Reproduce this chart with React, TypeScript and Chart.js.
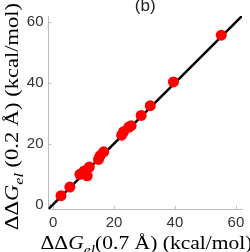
import React, { useEffect, useRef } from "react";
import { Chart, registerables } from "chart.js";

Chart.register(...registerables);

// ΔΔG_el at 0.7 Å (x) vs 0.2 Å (y), kcal/mol
const xValues = [2.6, 5.5, 8.8, 10.2, 11.2, 11.9, 14.9, 15.4, 16.6, 22.5, 23.1, 24.8, 25.6, 28.9, 31.9, 39.5, 55.2];
const yValues = [2.9, 5.7, 9.9, 11.0, 9.4, 12.3, 14.8, 16.0, 17.3, 22.8, 23.9, 25.4, 25.9, 29.3, 32.5, 40.3, 55.7];
const tickValues = [0, 20, 40, 60];
const axisMin = -1.5;
const axisMax = 62;
const diagonal = [axisMin, axisMax];
const titleText = "(b)";

const SANS = '"Liberation Sans", Arial, Helvetica, sans-serif';
const SERIF = '"Liberation Serif", "Times New Roman", serif';

type Part = { t: string; italic?: boolean; sub?: boolean };

function drawMath(
  ctx: CanvasRenderingContext2D,
  parts: Part[],
  size: number,
  x0: number,
  y0: number,
  targetLen: number,
  rotate: boolean
) {
  ctx.save();
  ctx.translate(x0, y0);
  if (rotate) ctx.rotate(-Math.PI / 2);
  const fonts = parts.map(
    (p) => `${p.italic ? "italic " : ""}${p.sub ? Math.round(size * 0.7) : size}px ${SERIF}`
  );
  let w = 0;
  parts.forEach((p, i) => {
    ctx.font = fonts[i];
    w += ctx.measureText(p.t).width;
  });
  const k = targetLen / w;
  ctx.scale(k, 1);
  ctx.fillStyle = "#000";
  ctx.textAlign = "left";
  ctx.textBaseline = "alphabetic";
  let cx = 0;
  parts.forEach((p, i) => {
    ctx.font = fonts[i];
    ctx.fillText(p.t, cx, p.sub ? size * 0.28 : 0);
    cx += ctx.measureText(p.t).width;
  });
  ctx.restore();
}

const decorPlugin = {
  id: "decor",
  afterDraw(chart: any) {
    const ctx: CanvasRenderingContext2D = chart.ctx;
    const { left, right, bottom } = chart.chartArea;
    const xs = chart.scales.x;
    const ys = chart.scales.y;
    // inward tick marks
    ctx.save();
    ctx.strokeStyle = "#bdbdbd";
    ctx.lineWidth = 1;
    ctx.beginPath();
    tickValues.forEach((v) => {
      const px = Math.round(xs.getPixelForValue(v)) + 0.5;
      ctx.moveTo(px, bottom);
      ctx.lineTo(px, bottom - 3);
      const py = Math.round(ys.getPixelForValue(v)) + 0.5;
      ctx.moveTo(left, py);
      ctx.lineTo(left + 3, py);
    });
    ctx.stroke();
    ctx.restore();

    // title
    ctx.save();
    ctx.fillStyle = "#222";
    ctx.font = `17px ${SANS}`;
    ctx.textAlign = "center";
    ctx.textBaseline = "middle";
    ctx.fillText(titleText, (left + right) / 2, 6);
    ctx.restore();

    // axis titles
    drawMath(
      ctx,
      [{ t: "ΔΔ" }, { t: "G", italic: true }, { t: "el", italic: true, sub: true }, { t: "(0.7 Å) (kcal/mol)" }],
      18,
      40.5,
      249,
      212,
      false
    );
    drawMath(
      ctx,
      [{ t: "ΔΔ" }, { t: "G", italic: true }, { t: "el", italic: true, sub: true }, { t: " (0.2 Å) (kcal/mol)" }],
      18,
      18,
      230,
      227,
      true
    );
  },
};

export default function App() {
  const ref = useRef<HTMLCanvasElement | null>(null);

  useEffect(() => {
    if (!ref.current) return;
    const tickOpts = {
      font: { size: 15, family: SANS },
      color: "#333",
      maxRotation: 0,
      autoSkip: false,
    };
    const chart = new Chart(ref.current, {
      type: "scatter",
      data: {
        datasets: [
          {
            type: "scatter",
            data: xValues.map((x, i) => ({ x, y: yValues[i] })),
            backgroundColor: "#ff0000",
            borderWidth: 0,
            pointRadius: 5.5,
            pointHoverRadius: 5.5,
          },
          {
            type: "line",
            data: diagonal.map((v) => ({ x: v, y: v })),
            borderColor: "#000",
            borderWidth: 2.5,
            pointRadius: 0,
            fill: false,
          } as any,
        ],
      },
      options: {
        animation: false,
        responsive: false,
        devicePixelRatio: 1,
        layout: { padding: { top: 16, right: 8, left: 0, bottom: 0 } },
        plugins: { legend: { display: false }, tooltip: { enabled: false }, title: { display: false } },
        scales: {
          x: {
            type: "linear",
            min: axisMin,
            max: axisMax,
            afterBuildTicks: (s: any) => {
              s.ticks = tickValues.map((v) => ({ value: v }));
            },
            afterFit: (s: any) => {
              s.height = 43;
            },
            grid: { display: false, drawTicks: false },
            border: { display: true, color: "#bdbdbd", width: 1 },
            ticks: { ...tickOpts, padding: 5 },
          },
          y: {
            type: "linear",
            min: axisMin,
            max: axisMax,
            afterBuildTicks: (s: any) => {
              s.ticks = tickValues.map((v) => ({ value: v }));
            },
            afterFit: (s: any) => {
              s.width = 48.5;
            },
            grid: { display: false, drawTicks: false },
            border: { display: true, color: "#bdbdbd", width: 1 },
            ticks: { ...tickOpts, padding: 5 },
          },
        },
      },
      plugins: [decorPlugin],
    });
    return () => chart.destroy();
  }, []);

  return (
    <div style={{ position: "fixed", left: 0, top: 0, width: 250, height: 252, background: "#fff" }}>
      <canvas ref={ref} width={250} height={252} style={{ width: 250, height: 252 }} />
    </div>
  );
}
